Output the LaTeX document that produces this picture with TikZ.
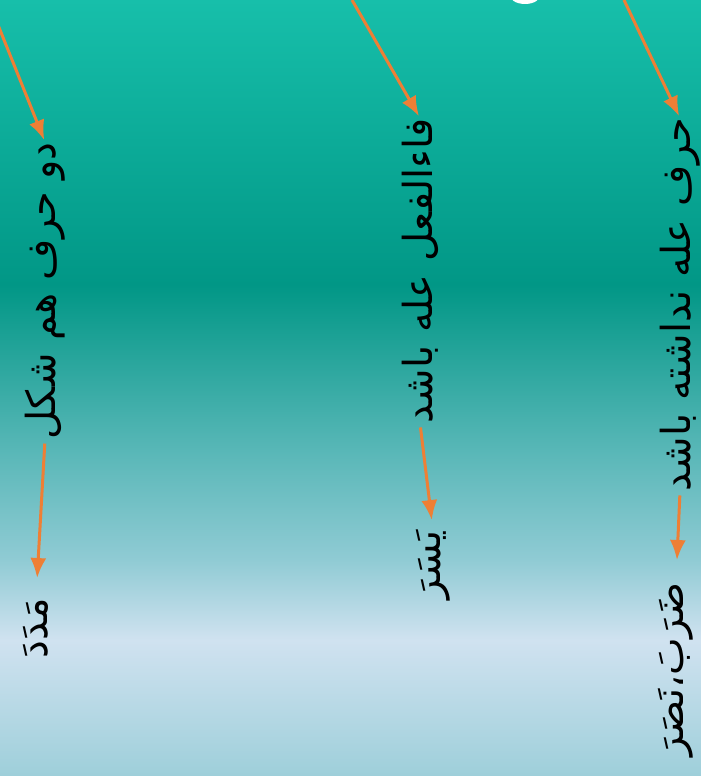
\documentclass[tikz,border=0pt]{standalone}
\usepackage{fontspec}
\newfontfamily\arabicfont[Script=Arabic]{DejaVu Sans}
\TeXXeTstate=1
\usepackage{xcolor}
\usetikzlibrary{arrows.meta, positioning}

\definecolor{tealtop}{HTML}{17BFAA}
\definecolor{tealdark}{HTML}{019786}
\definecolor{tealmid}{HTML}{58B7B7}
\definecolor{tealpale}{HTML}{90CBD4}
\definecolor{bluelight}{HTML}{D0E2F0}
\definecolor{bluebot}{HTML}{9ECFDA}
\definecolor{arrorange}{HTML}{EE7F35}

\pgfdeclareverticalshading{bgshade}{100bp}{color(0bp)=(bluebot); color(25bp)=(bluebot);
  color(33.76bp)=(bluelight); color(38.92bp)=(tealpale); color(46bp)=(tealmid);
  color(56.64bp)=(tealdark); color(75bp)=(tealtop); color(100bp)=(tealtop)}

\begin{document}
\begin{tikzpicture}[x=1pt, y=-1pt, >={Latex[length=20pt,width=16pt]},
    arr/.style={->, draw=arrorange, fill=arrorange, line width=3pt},
    rule/.style={rotate=90, inner sep=0pt, font=\arabicfont\fontsize{40}{48}\selectfont}]
    % Nền
    \useasboundingbox (0,0) rectangle (701,776);
    \shade[shading=bgshade] (0,0) rectangle (701,776);
    \fill[white] (525,-6) ellipse (16 and 10);

    % Các dòng chữ
    \node[rule, anchor=east] (rule1) at (45,142) {\beginR دو حرف هم شکل\endR};
    \node[rule, anchor=east] (ex1) at (36,598) {\beginR مَدَدَ\endR};
    \node[rule, anchor=east] (rule2) at (420,118) {\beginR فاءالفعل عله باشد\endR};
    \node[rule, anchor=east] (ex2) at (433,530) {\beginR يَسَرَ\endR};
    \node[rule, anchor=east] (rule3) at (680,118) {\beginR حرف عله نداشته باشد\endR};
    \node[rule, anchor=east] (ex3) at (676,582) {\beginR ضَرَبَ،نَصَرَ\endR};

    % Mũi tên
    \coordinate (from1) at (-12,0);
    \coordinate (from2) at (352,0);
    \coordinate (from3) at (624,0);
    \draw[arr, shorten >=2pt] (from1) -- (rule1.east);
    \draw[arr, shorten >=2pt] (from2) -- (rule2.east);
    \draw[arr, shorten >=2pt] (from3) -- (rule3.east);
    \draw[arr, shorten <=4pt, shorten >=20pt] (rule1.west) -- (ex1.east);
    \draw[arr, shorten <=4pt, shorten >=10pt] (rule2.west) -- (ex2.east);
    \draw[arr, shorten <=4pt, shorten >=22pt] (rule3.west) -- (ex3.east);
\end{tikzpicture}
\end{document}
